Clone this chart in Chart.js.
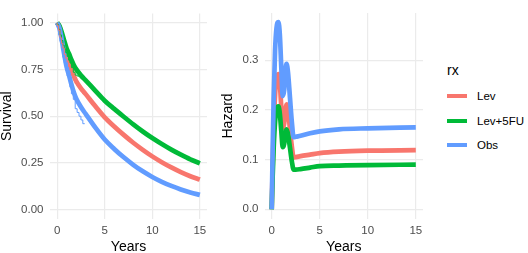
<!DOCTYPE html>
<html>
<head>
<meta charset="utf-8">
<script src="https://cdn.jsdelivr.net/npm/chart.js@4.4.0/dist/chart.umd.min.js"></script>
<style>
  body { margin: 0; background: #fff; width: 528px; height: 253px; overflow: hidden; position: relative;
         font-family: 'Liberation Sans', Arial, sans-serif; }
  canvas { position: absolute; top: 0; }
  #survival { left: 0; }
  #hazard { left: 215px; }
  .legend-title { position: absolute; left: 447px; top: 63px; font-size: 14px; line-height: 14px; color: #000; }
  .legend-item { position: absolute; left: 447px; height: 14px; font-size: 11.5px; line-height: 14px; color: #000; }
  .legend-item .key { position: absolute; left: 0; top: 5px; width: 20px; height: 4px; }
  .legend-item .lbl { position: absolute; left: 30px; top: 0; white-space: nowrap; }
</style>
</head>
<body>
<canvas id="survival" width="215" height="256"></canvas>
<canvas id="hazard" width="215" height="256"></canvas>
<div id="legend"></div>

<script>
// groups
const groups = ['Lev', 'Lev+5FU', 'Obs'];
const colors = ['#F8766D', '#00BA38', '#619CFF'];

// survival curves (fitted)
const survTimes = [0, 0.25, 0.5, 0.75, 1, 1.25, 1.5, 1.75, 2, 2.5, 3, 4, 5, 6, 7, 8, 9, 10, 11, 12, 13, 14, 15];
const survLev = [1, 0.978, 0.931, 0.874, 0.823, 0.789, 0.75, 0.715, 0.688, 0.649, 0.618, 0.554, 0.494, 0.445, 0.4, 0.358, 0.32, 0.285, 0.254, 0.226, 0.201, 0.179, 0.161];
const survLev5FU = [1, 0.983, 0.947, 0.903, 0.862, 0.834, 0.802, 0.774, 0.752, 0.719, 0.692, 0.637, 0.583, 0.539, 0.497, 0.456, 0.418, 0.383, 0.351, 0.321, 0.294, 0.269, 0.248];
const survObs = [1, 0.97, 0.905, 0.83, 0.763, 0.719, 0.67, 0.628, 0.595, 0.549, 0.512, 0.44, 0.375, 0.325, 0.28, 0.24, 0.205, 0.175, 0.149, 0.127, 0.108, 0.092, 0.079];

// Kaplan-Meier steps (thin lines)
const kmTimes = [0, 0.15, 0.3, 0.45, 0.6, 0.75, 0.9, 1.05, 1.2, 1.35, 1.5, 1.7, 1.9, 2.1, 2.3, 2.5, 2.7, 2.9];
const kmLev = [1, 0.985, 0.96, 0.92, 0.89, 0.865, 0.83, 0.81, 0.79, 0.765, 0.745, 0.72, 0.695, 0.675, 0.665, 0.65, 0.635, 0.62];
const kmLev5FU = [1, 0.99, 0.965, 0.935, 0.905, 0.88, 0.86, 0.84, 0.82, 0.8, 0.785, 0.76, 0.735, 0.72, 0.715, 0.71, 0.7, 0.695];
const kmObs = [1, 0.975, 0.935, 0.9, 0.855, 0.815, 0.785, 0.745, 0.715, 0.69, 0.655, 0.62, 0.59, 0.54, 0.52, 0.5, 0.48, 0.46];

// hazard curves
const hazTimes = [0, 0.1, 0.2, 0.35, 0.5, 0.7, 0.85, 1.0, 1.15, 1.3, 1.45, 1.55, 1.7, 1.9, 2.1, 2.28, 2.5, 3, 4, 5, 7, 10, 15];
const hazLev = [0, 0.086, 0.158, 0.23, 0.263, 0.272, 0.252, 0.205, 0.164, 0.173, 0.203, 0.211, 0.198, 0.162, 0.126, 0.104, 0.105, 0.107, 0.11, 0.113, 0.116, 0.118, 0.119];
const hazLev5FU = [0, 0.066, 0.121, 0.176, 0.2, 0.207, 0.192, 0.157, 0.125, 0.132, 0.155, 0.161, 0.151, 0.124, 0.096, 0.08, 0.08, 0.081, 0.084, 0.087, 0.088, 0.089, 0.09];
const hazObs = [0, 0.12, 0.22, 0.32, 0.365, 0.377, 0.35, 0.285, 0.228, 0.24, 0.282, 0.293, 0.275, 0.225, 0.175, 0.145, 0.146, 0.148, 0.153, 0.157, 0.161, 0.163, 0.165];

// ticks
const xTicks = [0, 5, 10, 15];
const xTickLabels = ['0', '5', '10', '15'];
const survTicks = [0, 0.25, 0.5, 0.75, 1];
const survTickLabels = ['0.00', '0.25', '0.50', '0.75', '1.00'];
const hazTicks = [0, 0.1, 0.2, 0.3];
const hazTickLabels = ['0.0', '0.1', '0.2', '0.3'];

Chart.defaults.font.family = "'Liberation Sans', Arial, sans-serif";

const pts = (xs, ys) => xs.map((x, i) => ({ x: x, y: ys[i] }));

function curve(xs, ys, color, order) {
    return {
        data: pts(xs, ys),
        borderColor: color,
        borderWidth: 4.7,
        pointRadius: 0,
        fill: false,
        cubicInterpolationMode: 'monotone',
        order: order
    };
}

function steps(xs, ys, color) {
    return {
        data: pts(xs, ys),
        borderColor: color,
        borderWidth: 1,
        pointRadius: 0,
        fill: false,
        stepped: 'after',
        order: 0
    };
}

function scales(yMin, yMax, yTicks, yLabels, yTitle, yWidth, yPad) {
    return {
        x: {
            type: 'linear', min: -0.75, max: 15.75,
            afterBuildTicks: s => { s.ticks = xTicks.map(v => ({ value: v })); },
            afterFit: s => { s.height = 37; },
            grid: { color: '#ebebeb', lineWidth: 1.2, drawTicks: false },
            border: { display: false },
            ticks: { color: '#4d4d4d', font: { size: 11.5 }, padding: 5, maxRotation: 0,
                     callback: (v, i) => xTickLabels[i] },
            title: { display: true, text: 'Years', color: '#000', font: { size: 14, lineHeight: 1 }, padding: { top: 0, bottom: 2 } }
        },
        y: {
            type: 'linear', min: yMin, max: yMax,
            afterBuildTicks: s => { s.ticks = yTicks.map(v => ({ value: v })); },
            afterFit: s => { s.width = yWidth; },
            grid: { color: '#ebebeb', lineWidth: 1.2, drawTicks: false },
            border: { display: false },
            ticks: { color: '#4d4d4d', font: { size: 11.5 }, padding: yPad,
                     callback: (v, i) => yLabels[i] },
            title: { display: true, text: yTitle, color: '#000', font: { size: 14, lineHeight: 1 }, padding: 0 }
        }
    };
}

const baseOptions = {
    responsive: false,
    animation: false,
    devicePixelRatio: 1,
    plugins: { legend: { display: false }, tooltip: { enabled: false } }
};

// Survival panel
new Chart(document.getElementById('survival'), {
    type: 'line',
    data: {
        datasets: [
            curve(survTimes, survLev, colors[0], 3),
            curve(survTimes, survLev5FU, colors[1], 2),
            curve(survTimes, survObs, colors[2], 1),
            steps(kmTimes, kmLev, colors[0]),
            steps(kmTimes, kmLev5FU, colors[1]),
            steps(kmTimes, kmObs, colors[2])
        ]
    },
    options: Object.assign({}, baseOptions, {
        layout: { padding: { left: 0, right: 8, top: 0, bottom: 0 } },
        scales: scales(-0.05, 1.05, survTicks, survTickLabels, 'Survival', 50, 6.5)
    })
});

// Hazard panel
new Chart(document.getElementById('hazard'), {
    type: 'line',
    data: {
        datasets: [
            curve(hazTimes, hazLev, colors[0], 3),
            curve(hazTimes, hazLev5FU, colors[1], 2),
            curve(hazTimes, hazObs, colors[2], 1)
        ]
    },
    options: Object.assign({}, baseOptions, {
        layout: { padding: { left: 6, right: 7, top: 0, bottom: 0 } },
        scales: scales(-0.0195, 0.3953, hazTicks, hazTickLabels, 'Hazard', 43.5, 6)
    })
});

// legend
const legend = document.getElementById('legend');
legend.innerHTML = '<div class="legend-title">rx</div>' + groups.map((g, i) =>
    `<div class="legend-item" style="top:${89 + i * 24.7}px">` +
    `<span class="key" style="background:${colors[i]}"></span><span class="lbl">${g}</span></div>`
).join('');
</script>
</body>
</html>
